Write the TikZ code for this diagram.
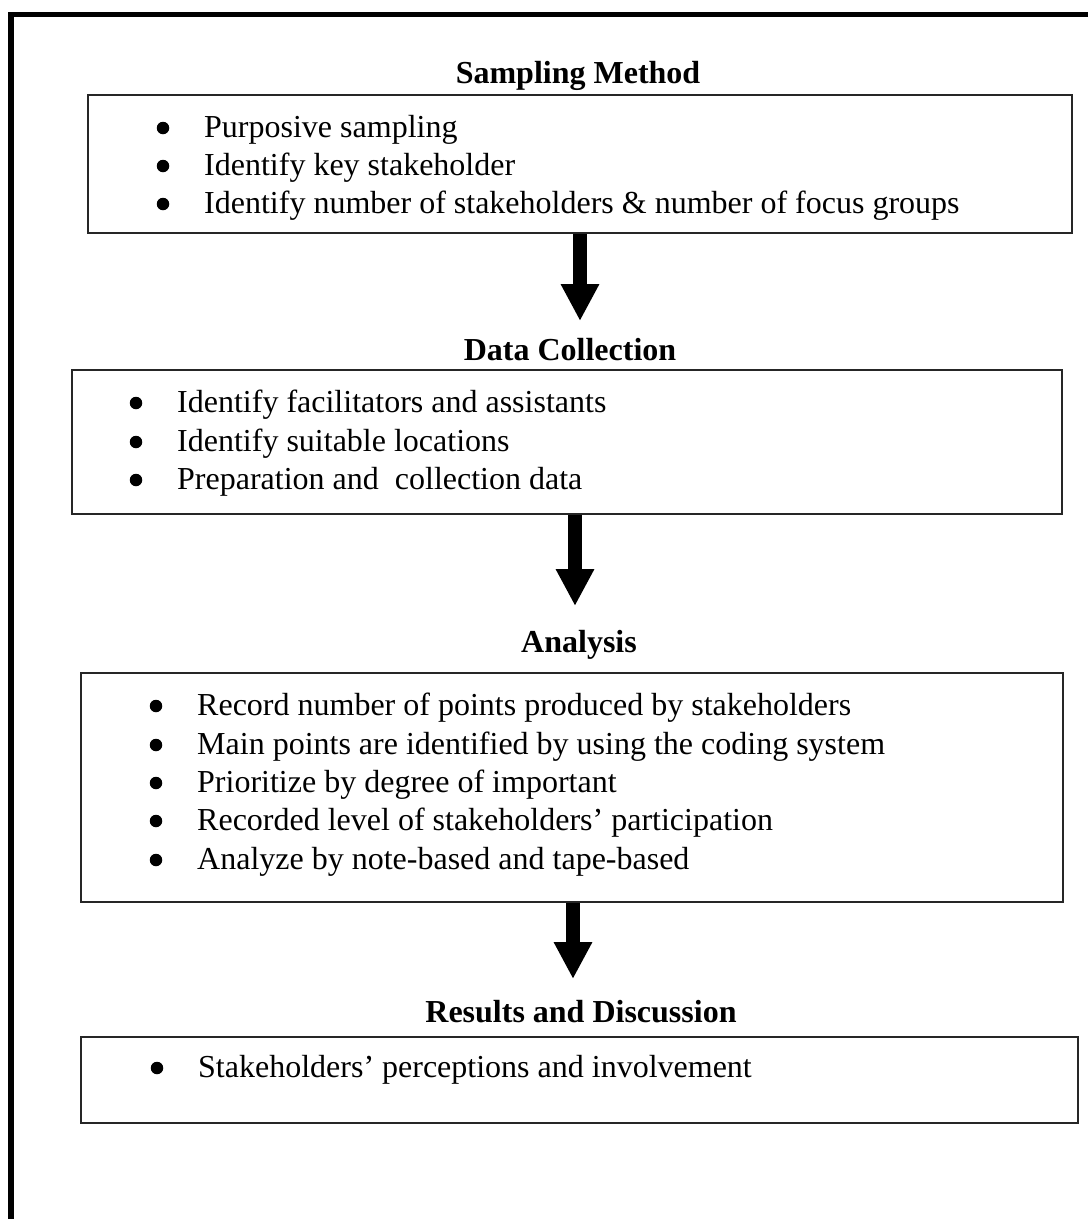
\documentclass[tikz,border=0pt]{standalone}
\usepackage{fontspec}
\setmainfont{Liberation Serif}
\usetikzlibrary{arrows.meta}
\begin{document}
\begin{tikzpicture}[x=1pt,y=-1pt,
  stagebox/.style={draw=black!85,line width=1.6pt,rectangle,inner sep=0pt},
  heading/.style={font=\fontsize{32}{38}\selectfont\bfseries,anchor=base,inner sep=0pt},
  entry/.style={font=\fontsize{32}{38}\selectfont,anchor=base west,inner sep=0pt},
  dotmark/.style={circle,fill=black,inner sep=0pt,minimum size=12.5pt},
  flow/.style={line width=14pt,-{Triangle[length=37pt,width=36pt]},shorten >=0pt}]
\useasboundingbox (0,0) rectangle (1088,1219);

% outer frame: top and left edges only
\draw[line width=5.5pt] (1088,14.5) -- (11,14.5) -- (11,1219);

% ---- Sampling Method ----
\node[heading] (t1) at (578,83) {Sampling Method};
\node[stagebox,minimum width=984pt,minimum height=138pt] (b1) at (580,164) {};
\node[dotmark] (d11) at (163,128) {};
\node[entry] (i11) at (204,137) {Purposive sampling};
\node[dotmark] (d12) at (163,166) {};
\node[entry] (i12) at (204,175) {Identify key stakeholder};
\node[dotmark] (d13) at (163,204) {};
\node[entry] (i13) at (204,213) {Identify number of stakeholders \& number of focus groups};

% ---- Data Collection ----
\node[heading] (t2) at (570,360) {Data Collection};
\node[stagebox,minimum width=990pt,minimum height=144pt] (b2) at (567,442) {};
\node[dotmark] (d21) at (136,403) {};
\node[entry] (i21) at (177,412) {Identify facilitators and assistants};
\node[dotmark] (d22) at (136,442) {};
\node[entry] (i22) at (177,451) {Identify suitable locations};
\node[dotmark] (d23) at (136,480) {};
\node[entry] (i23) at (177,489) {Preparation and~ collection data};

% ---- Analysis ----
\node[heading] (t3) at (579,652) {Analysis};
\node[stagebox,minimum width=982pt,minimum height=229pt] (b3) at (572,787.5) {};
\node[dotmark] (d31) at (156,706) {};
\node[entry] (i31) at (197,715) {Record number of points produced by stakeholders};
\node[dotmark] (d32) at (156,745) {};
\node[entry] (i32) at (197,754) {Main points are identified by using the coding system};
\node[dotmark] (d33) at (156,783) {};
\node[entry] (i33) at (197,792) {Prioritize by degree of important};
\node[dotmark] (d34) at (156,821) {};
\node[entry] (i34) at (197,830) {Recorded level of stakeholders’ participation};
\node[dotmark] (d35) at (156,860) {};
\node[entry] (i35) at (197,869) {Analyze by note-based and tape-based};

% ---- Results and Discussion ----
\node[heading] (t4) at (581,1022) {Results and Discussion};
\node[stagebox,minimum width=997pt,minimum height=86pt] (b4) at (579.5,1080) {};
\node[dotmark] (d41) at (157,1068) {};
\node[entry] (i41) at (198,1077) {Stakeholders’ perceptions and involvement};

% ---- block arrows between stages ----
\coordinate (a1) at (580,321);
\coordinate (a2) at (575,606);
\coordinate (a3) at (573,979);
\draw[flow] (b1.south -| a1) -- (a1);
\draw[flow] (b2.south -| a2) -- (a2);
\draw[flow] (b3.south -| a3) -- (a3);
\end{tikzpicture}
\end{document}
